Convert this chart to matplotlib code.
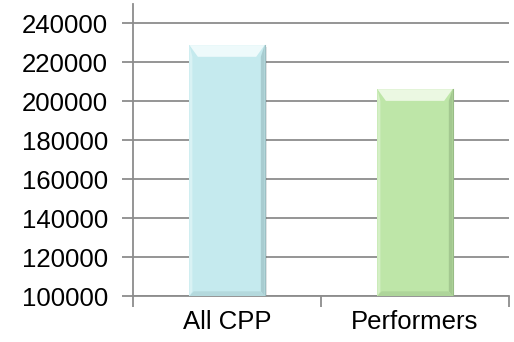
import matplotlib
matplotlib.use('Agg')
import matplotlib.pyplot as plt
from matplotlib.patches import Polygon, Rectangle

categories = ['All CPP', 'Performers']
values = [228700, 206100]
bar_colors = ['#C5EAEE', '#BEE6A8']
edge_dark = ['#9CC0C4', '#98BC86']
edge_light = ['#EEFAFB', '#EBF8E2']

y_ticks = [100000, 120000, 140000, 160000, 180000, 200000, 220000, 240000]

plt.rcParams['font.family'] = ['Liberation Sans', 'DejaVu Sans']

fig = plt.figure(figsize=(5.14, 3.42), dpi=100)
ax = fig.add_axes([0.2588, 0.1345, 0.7315, 0.855])

ymin, ymax = 100000, 250000
ax.set_xlim(0, len(categories))
ax.set_ylim(ymin, ymax)

width = 0.40
for i, (v, c) in enumerate(zip(values, bar_colors)):
    x0 = i + 0.5 - width / 2
    x1 = x0 + width
    # bevel sizes in data units
    bx = 0.045
    by = (ymax - ymin) * 0.04
    # soft drop shadow
    ax.add_patch(Rectangle((x0 + 0.01, ymin), width, v - ymin - by * 0.2,
                           facecolor='#000000', alpha=0.10, zorder=2, lw=0))
    ax.add_patch(Rectangle((x0, ymin), width, v - ymin, facecolor=c,
                           edgecolor='none', zorder=3))
    # top bevel (lighter)
    ax.add_patch(Polygon([(x0, v), (x1, v), (x1 - bx, v - by), (x0 + bx, v - by)],
                         closed=True, facecolor=edge_light[i], lw=0, zorder=4))
    # right bevel (darker)
    ax.add_patch(Polygon([(x1, v), (x1, ymin), (x1 - bx * 0.45, ymin + by * 0.4),
                          (x1 - bx * 0.45, v - by)],
                         closed=True, facecolor=edge_dark[i], lw=0, zorder=4, alpha=0.7))
    # left bevel (slightly lighter)
    ax.add_patch(Polygon([(x0, v), (x0, ymin), (x0 + bx * 0.35, ymin + by * 0.4),
                          (x0 + bx * 0.35, v - by)],
                         closed=True, facecolor=edge_light[i], lw=0, zorder=4, alpha=0.5))
    # bottom bevel
    ax.add_patch(Polygon([(x0, ymin), (x1, ymin), (x1 - bx * 0.5, ymin + by * 0.4),
                          (x0 + bx * 0.5, ymin + by * 0.4)],
                         closed=True, facecolor=edge_dark[i], lw=0, zorder=4, alpha=0.4))
    ax.plot([x1, x1], [v, ymin], color=edge_dark[i], lw=0.8, zorder=5)

ax.set_yticks(y_ticks)
ax.set_yticklabels([str(t) for t in y_ticks])
ax.set_xticks([0.5, 1.5])
ax.set_xticklabels(categories)
ax.set_xticks([0, 1, 2], minor=True)

ax.yaxis.grid(True, color='#8C8C8C', lw=1.3)
ax.set_axisbelow(True)

for s in ['top', 'right']:
    ax.spines[s].set_visible(False)
for s in ['left', 'bottom']:
    ax.spines[s].set_color('#8C8C8C')
    ax.spines[s].set_linewidth(1.3)

ax.tick_params(axis='y', length=8, width=1.3, color='#8C8C8C', labelsize=18.5, pad=10)
ax.tick_params(axis='x', which='major', length=0, labelsize=18.5, pad=10)
ax.tick_params(axis='x', which='minor', length=8, width=1.3, color='#8C8C8C')

fig.savefig('out.png', dpi=100)
